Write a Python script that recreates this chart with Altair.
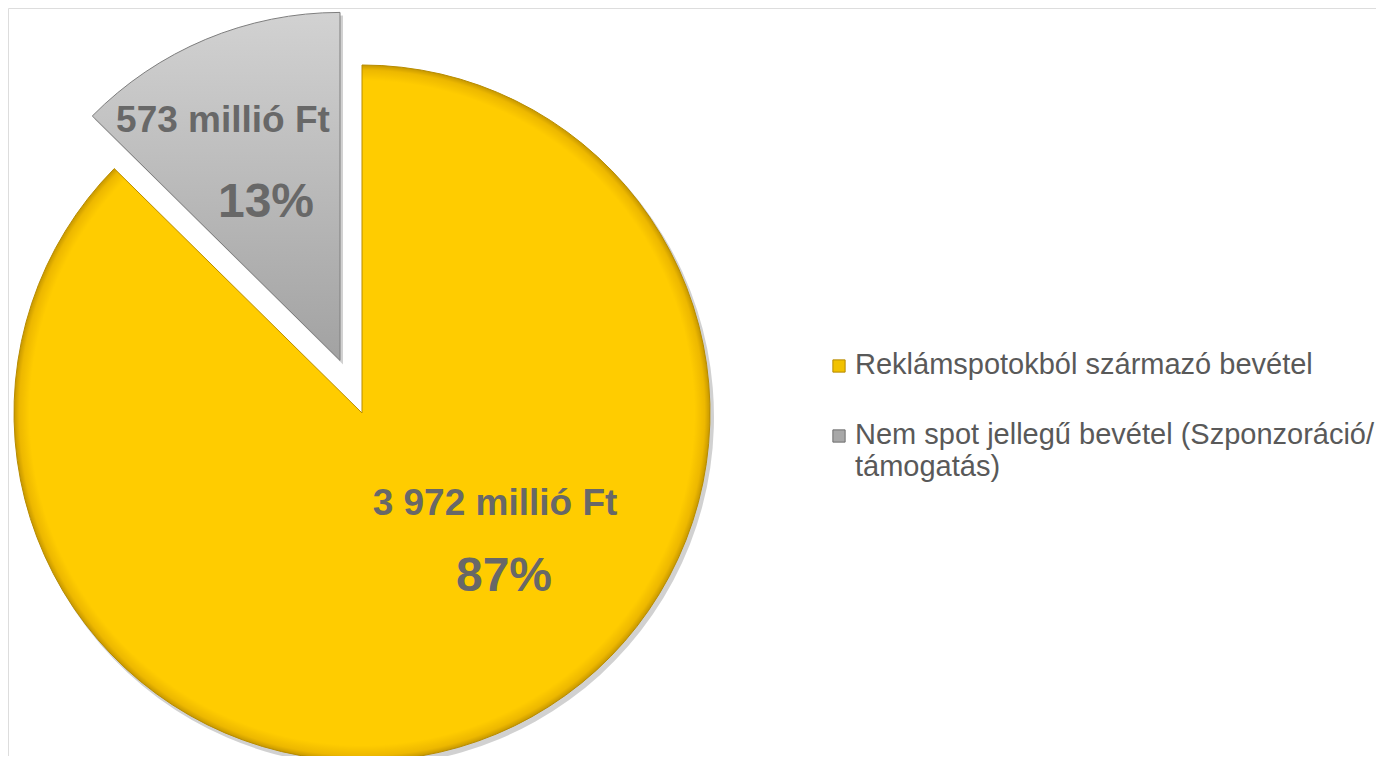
import math
import altair as alt
import pandas as pd

# ---- data ----
categories = ["Reklámspotokból származó bevétel",
              "Nem spot jellegű bevétel (Szponzoráció/támogatás)"]
values = [3972, 573]          # millió Ft

total = sum(values)
shares = [v / total for v in values]
amount_labels = [f"{v:,}".replace(",", " ") + " millió Ft" for v in values]
pct_labels = [f"{round(s * 100)}%" for s in shares]
legend_labels = [categories[0], categories[1].replace("/", "/\n", 1)]

df = pd.DataFrame({
    "cat": categories,
    "value": values,
    "order": [0, 1],
    "amount": amount_labels,
    "pct": pct_labels,
    "legend": legend_labels,
})

# ---- geometry (chart coordinates) ----
CX, CY, R = 354, 405, 348
EXPLODE = 57
mid_gray = 2 * math.pi * (1 - shares[1] / 2)
GX = CX + EXPLODE * math.sin(mid_gray)
GY = CY - EXPLODE * math.cos(mid_gray)

base = alt.Chart(df).transform_joinaggregate(
    total="sum(value)"
).transform_window(
    cum="sum(value)", sort=[alt.SortField("order")]
).transform_calculate(
    t1="datum.cum / datum.total * 2 * PI",
    t0="(datum.cum - datum.value) / datum.total * 2 * PI",
)

theta_enc = dict(theta=alt.Theta("t0:Q", scale=None), theta2=alt.Theta2("t1:Q"))

yellow_fill = alt.Gradient(
    gradient="radial", x1=0.5, y1=0.5, r1=0, x2=0.5, y2=0.5, r2=0.5,
    stops=[alt.GradientStop(offset=0, color="#FFCC00"),
           alt.GradientStop(offset=0.955, color="#FFCC00"),
           alt.GradientStop(offset=0.985, color="#EDB800"),
           alt.GradientStop(offset=1, color="#C79800")],
)
gray_fill = alt.Gradient(
    gradient="linear", x1=0, y1=0, x2=0, y2=1,
    stops=[alt.GradientStop(offset=0, color="#D2D2D2"),
           alt.GradientStop(offset=1, color="#A2A2A2")],
)

# shadows
shadow_y = base.transform_filter(alt.datum.order == 0).mark_arc(
    radius=R + 1, fill="#000000", opacity=0.18
).encode(x=alt.value(CX + 3), y=alt.value(CY + 4), **theta_enc)
shadow_g = base.transform_filter(alt.datum.order == 1).mark_arc(
    radius=R + 1, fill="#000000", opacity=0.18
).encode(x=alt.value(GX + 3), y=alt.value(GY + 4), **theta_enc)

arc_y = base.transform_filter(alt.datum.order == 0).mark_arc(
    radius=R, fill=yellow_fill, stroke="#B88C00", strokeWidth=1
).encode(x=alt.value(CX), y=alt.value(CY), **theta_enc)
arc_g = base.transform_filter(alt.datum.order == 1).mark_arc(
    radius=R, fill=gray_fill, stroke="#7E7E7E", strokeWidth=1
).encode(x=alt.value(GX), y=alt.value(GY), **theta_enc)

TXT = "#686868"
FONT = "Liberation Sans"

amt_y = alt.Chart(df).transform_filter(alt.datum.order == 0).mark_text(
    font=FONT, fontWeight="bold", fontSize=37, color=TXT, align="center",
    baseline="alphabetic"
).encode(x=alt.value(487), y=alt.value(507), text="amount:N")
pct_y = alt.Chart(df).transform_filter(alt.datum.order == 0).mark_text(
    font=FONT, fontWeight="bold", fontSize=48, color=TXT, align="center",
    baseline="alphabetic"
).encode(x=alt.value(496), y=alt.value(583), text="pct:N")
amt_g = alt.Chart(df).transform_filter(alt.datum.order == 1).mark_text(
    font=FONT, fontWeight="bold", fontSize=37, color=TXT, align="center",
    baseline="alphabetic"
).encode(x=alt.value(215), y=alt.value(124), text="amount:N")
pct_g = alt.Chart(df).transform_filter(alt.datum.order == 1).mark_text(
    font=FONT, fontWeight="bold", fontSize=48, color=TXT, align="center",
    baseline="alphabetic"
).encode(x=alt.value(258), y=alt.value(209), text="pct:N")

# legend (manual)
ypos = alt.Y("cat:N", scale=alt.Scale(type="point", domain=categories,
                                       range=[358, 428], padding=0), axis=None)
leg_sq = alt.Chart(df).mark_square(size=150, strokeWidth=1, opacity=1).encode(
    x=alt.value(831), y=ypos,
    fill=alt.Fill("cat:N", scale=alt.Scale(domain=categories,
                                           range=["#F2C200", "#A8A8A8"]), legend=None),
    stroke=alt.Stroke("cat:N", scale=alt.Scale(domain=categories,
                                               range=["#B58A00", "#6E6E6E"]), legend=None),
)
leg_txt = alt.Chart(df).mark_text(
    font=FONT, fontSize=29, color="#595959", align="left", baseline="alphabetic",
    dy=8, lineBreak="\n", lineHeight=32
).encode(x=alt.value(847), y=ypos, text="legend:N")

chart = alt.layer(
    shadow_y, shadow_g, arc_y, arc_g, amt_y, pct_y, amt_g, pct_g, leg_sq, leg_txt
).properties(
    width=1368, height=748, padding=0,
    autosize=alt.AutoSizeParams(type="none"),
).configure_view(strokeWidth=0, stroke="transparent").configure(background="white")

chart.save("out.html", embed_options={"renderer": "svg", "actions": False})
